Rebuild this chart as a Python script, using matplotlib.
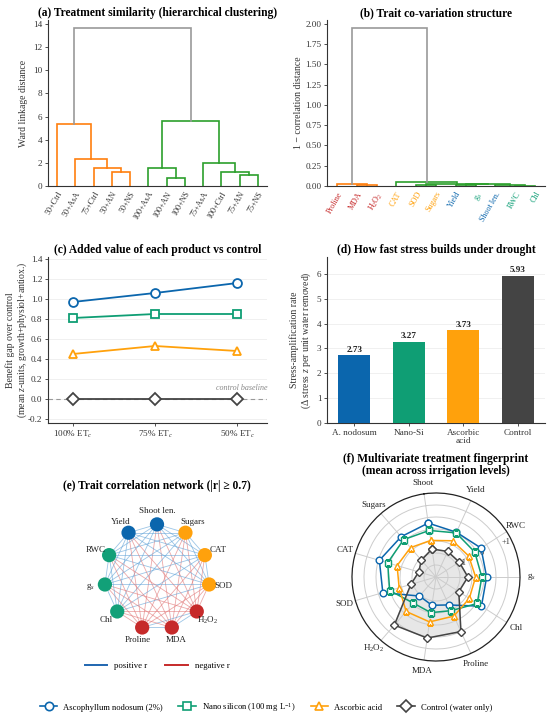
import numpy as np
import matplotlib
matplotlib.use("Agg")
import matplotlib.pyplot as plt
from matplotlib.lines import Line2D

plt.rcParams['font.family'] = ['Liberation Serif', 'DejaVu Serif']
plt.rcParams['mathtext.fontset'] = 'custom'
plt.rcParams['mathtext.rm'] = 'Liberation Serif'
plt.rcParams['mathtext.it'] = 'Liberation Serif:italic'

# ---------------- data ----------------
treat_leaves = ["50+Ctrl", "50+AsA", "75+Ctrl", "50+AN", "50+NS", "100+AsA", "100+AN",
                "100+NS", "75+AsA", "100+Ctrl", "75+AN", "75+NS"]
treat_merges = [(3, 4, 1.18), (2, 12, 1.58), (1, 13, 2.37), (0, 14, 5.34),
                (6, 7, 0.67), (5, 16, 1.52), (10, 11, 0.95), (9, 18, 1.23),
                (8, 19, 1.98), (17, 20, 5.63), (15, 21, 13.65)]

trait_leaves = ["Proline", "MDA", "H$_2$O$_2$", "CAT", "SOD", "Sugars", "Yield", "g$_s$",
                "Shoot len.", "RWC", "Chl"]
trait_leaf_group = ["stress", "stress", "stress", "antiox", "antiox", "antiox",
                    "growth", "physio", "growth", "physio", "physio"]
trait_merges = [(1, 2, 0.012), (0, 11, 0.030), (4, 5, 0.008), (9, 10, 0.005),
                (8, 14, 0.012), (6, 7, 0.015), (16, 15, 0.020), (13, 17, 0.027),
                (3, 18, 0.055), (12, 19, 1.95)]

levels = ["100% ET$_c$", "75% ET$_c$", "50% ET$_c$"]
treatments = ["Ascophyllum nodosum (2%)", "Nano silicon (100 mg L$^{-1}$)",
              "Ascorbic acid", "Control (water only)"]
gap_an = [0.97, 1.06, 1.16]
gap_ns = [0.81, 0.85, 0.85]
gap_asa = [0.45, 0.53, 0.48]
gap_ctrl = [0.0, 0.0, 0.0]

bar_labels = ["A. nodosum", "Nano-Si", "Ascorbic\nacid", "Control"]
amp_rate = [2.73, 3.27, 3.73, 5.93]

net_traits = ["Shoot len.", "Sugars", "CAT", "SOD", "H$_2$O$_2$", "MDA", "Proline",
              "Chl", "g$_s$", "RWC", "Yield"]
net_group = ["growth", "antiox", "antiox", "antiox", "stress", "stress", "stress",
             "physio", "physio", "physio", "growth"]
net_polarity = [1, 1, 1, 1, -1, -1, -1, 1, 1, 1, 1]

radar_traits = ["Shoot", "Yield", "RWC", "g$_s$", "Chl", "Proline", "MDA",
                "H$_2$O$_2$", "SOD", "CAT", "Sugars"]
radar_an = [0.27, 0.05, 0.23, 0.11, 0.25, -0.72, -0.81, -0.95, 0.31, 0.46, 0.22]
radar_ns = [-0.04, 0.02, -0.08, -0.09, 0.04, -0.46, -0.50, -0.56, 0.01, 0.10, 0.06]
radar_asa = [-0.46, -0.34, -0.38, -0.35, -0.35, -0.21, -0.11, -0.10, -0.40, -0.31, -0.38]
radar_ctrl = [-0.82, -0.83, -0.85, -0.67, -0.87, 0.50, 0.57, 0.65, -0.91, -1.25, -1.07]

# ---------------- styles ----------------
C_AN, C_NS, C_ASA, C_CT = "#0b66ad", "#0f9e74", "#ffa10c", "#444444"
group_col = {"growth": "#0b66ad", "antiox": "#ffa10c", "physio": "#12a078", "stress": "#c62a2a"}
DK = "#333333"
TFS = 8.3
TICK = 6.6
YLAB = 7.0

W, H = 550, 719
fig = plt.figure(figsize=(W / 100, H / 100), dpi=100)


def rect(l, t, r, b):
    return [l / W, 1 - b / H, (r - l) / W, (b - t) / H]


def style(ax):
    for s in ['top', 'right']:
        ax.spines[s].set_visible(False)
    for s in ['left', 'bottom']:
        ax.spines[s].set_color(DK)
        ax.spines[s].set_linewidth(0.8)
    ax.tick_params(colors=DK, labelsize=TICK, width=0.6, length=2.5, pad=1.5)


def dendro(ax, leaves, merges, cols):
    n = len(leaves)
    pos = {i: 5 + 10 * i for i in range(n)}
    hgt = {i: 0.0 for i in range(n)}
    for k, (a, b, h) in enumerate(merges):
        pos[n + k] = (pos[a] + pos[b]) / 2
        hgt[n + k] = h
    colour = {}
    root = n + len(merges) - 1

    def paint(node, c):
        if node < n:
            return
        colour[node] = c
        a, b, _ = merges[node - n]
        paint(a, c)
        paint(b, c)
    colour[root] = "#999999"
    ra, rb, _ = merges[root - n]
    paint(ra, cols[0])
    paint(rb, cols[1])
    for k, (a, b, h) in enumerate(merges):
        node = n + k
        ax.plot([pos[a], pos[a], pos[b], pos[b]], [hgt[a], h, h, hgt[b]],
                color=colour[node], lw=1.2, solid_joinstyle='miter')
    ax.set_xlim(0, 10 * n)
    ax.set_ylim(0, max(m[2] for m in merges) * 1.05)
    ax.set_xticks([5 + 10 * i for i in range(n)])
    ax.set_xticklabels(leaves, rotation=60, ha='right', rotation_mode='anchor', fontsize=5.9)
    ax.tick_params(axis='x', length=0, pad=3)


# (a)
axa = fig.add_axes(rect(48, 20, 267, 186))
style(axa)
dendro(axa, treat_leaves, treat_merges, ["#ff7f0e", "#2ca02c"])
axa.set_yticks(range(0, 15, 2))
axa.set_ylabel("Ward linkage distance", fontsize=YLAB, color=DK)
axa.yaxis.set_label_coords(-0.09, 0.5)
axa.set_title("(a) Treatment similarity (hierarchical clustering)", fontsize=TFS,
              fontweight='bold', pad=3)

# (b)
axb = fig.add_axes(rect(327, 20, 545, 186))
style(axb)
dendro(axb, trait_leaves, trait_merges, ["#ff7f0e", "#2ca02c"])
axb.set_yticks(np.arange(0, 2.01, 0.25))
axb.yaxis.set_major_formatter(matplotlib.ticker.FormatStrFormatter('%.2f'))
for lab, g in zip(axb.get_xticklabels(), trait_leaf_group):
    lab.set_color(group_col[g])
axb.set_ylabel("1 \u2212 correlation distance", fontsize=YLAB, color=DK)
axb.yaxis.set_label_coords(-0.11, 0.5)
axb.set_title("(b) Trait co-variation structure", fontsize=TFS, fontweight='bold', pad=3)

# (c)
axc = fig.add_axes(rect(48, 257, 267, 423))
style(axc)
x = np.arange(len(levels))
axc.axhline(0, color="#999999", lw=0.8, ls=(0, (4, 3)), zorder=1)
for vals, c, m in [(gap_an, C_AN, 'o'), (gap_ns, C_NS, 's'), (gap_asa, C_ASA, '^'),
                   (gap_ctrl, C_CT, 'D')]:
    axc.plot(x, vals, color=c, lw=1.3, marker=m, ms=6.4 if m != 'D' else 6.0,
             mfc='white', mec=c, mew=1.3, zorder=3)
axc.set_xlim(-0.3, 2.36)
axc.set_ylim(-0.24, 1.42)
axc.set_yticks(np.arange(-0.2, 1.41, 0.2))
axc.yaxis.set_major_formatter(matplotlib.ticker.FuncFormatter(
    lambda v, p: "%.1f" % (0.0 if abs(v) < 1e-9 else v)))
axc.set_xticks(x)
axc.set_xticklabels(levels, fontsize=TICK)
axc.grid(axis='y', color="#eeeeee", lw=0.6)
axc.set_axisbelow(True)
axc.text(2.36, 0.065, "control baseline", fontsize=5.8, style='italic', color="#888888",
         ha='right', va='bottom')
axc.set_ylabel("Benefit gap over control\n(mean $z$-units, growth+physiol+antiox.)",
               fontsize=YLAB, color=DK, linespacing=1.1)
axc.yaxis.set_label_coords(-0.085, 0.5)
axc.set_title("(c) Added value of each product vs control", fontsize=TFS,
              fontweight='bold', pad=3)

# (d)
axd = fig.add_axes(rect(327, 257, 545, 423))
style(axd)
xb = np.arange(len(bar_labels))
axd.bar(xb, amp_rate, width=0.59, color=[C_AN, C_NS, C_ASA, C_CT], zorder=3)
for xi, v in zip(xb, amp_rate):
    axd.text(xi, v + 0.05, "%.2f" % v, ha='center', va='bottom', fontsize=6.6,
             fontweight='bold', color="#222222")
axd.set_xlim(-0.5, 3.5)
axd.set_ylim(0, 6.68)
axd.set_yticks(range(0, 7))
axd.set_xticks(xb)
axd.set_xticklabels(bar_labels, fontsize=TICK, linespacing=1.0)
axd.grid(axis='y', color="#eeeeee", lw=0.6)
axd.set_axisbelow(True)
axd.set_ylabel("Stress-amplification rate\n(\u0394 stress $z$ per unit water removed)",
               fontsize=YLAB, color=DK, linespacing=1.1)
axd.yaxis.set_label_coords(-0.064, 0.5)
axd.set_title("(d) How fast stress builds under drought", fontsize=TFS,
              fontweight='bold', pad=3)

# (e) network
axe = fig.add_axes(rect(57, 477, 257, 677))
axe.set_xlim(-1.9, 1.9)
axe.set_ylim(-1.9, 1.9)
axe.axis('off')
nn = len(net_traits)
ang = np.pi / 2 - 2 * np.pi * np.arange(nn) / nn
nx, ny = np.cos(ang), np.sin(ang)
for i in range(nn):
    for j in range(i + 1, nn):
        sgn = net_polarity[i] * net_polarity[j]
        axe.plot([nx[i], nx[j]], [ny[i], ny[j]],
                 color="#5a9fd6" if sgn > 0 else "#e07070", lw=0.6, alpha=0.6, zorder=1)
axe.scatter(nx, ny, s=105, c=[group_col[g] for g in net_group], zorder=3, linewidths=0)
for i, t in enumerate(net_traits):
    axe.text(1.27 * nx[i], 1.25 * ny[i], t, ha='center', va='center', fontsize=6.5,
             color="#222222", zorder=4)
fig.text(157 / W, 1 - 486 / H, "(e) Trait correlation network (|r| \u2265 0.7)",
         ha='center', va='center', fontsize=TFS, fontweight='bold')
fig.legend(handles=[Line2D([], [], color="#1f66b0", lw=1.4),
                    Line2D([], [], color="#c62a2a", lw=1.4)],
           labels=["positive r", "negative r"], loc='center',
           bbox_to_anchor=(157 / W, 1 - 666 / H), ncol=2, frameon=False, fontsize=6.3,
           handlelength=2.6, columnspacing=2.0, handletextpad=0.8)

# (f) radar
axf = fig.add_axes(rect(352, 493, 520, 661), projection='polar')
nr = len(radar_traits)
th = 2 * np.pi * np.arange(nr) / nr
thc = np.concatenate([th, th[:1]])
axf.set_theta_offset(np.deg2rad(90 + 360 / 44))
axf.set_theta_direction(-1)
axf.set_ylim(-2, 1.5)
axf.set_yticks([-1.5, -1, -0.5, 0, 0.5, 1])
axf.set_yticklabels(["", "\u22121", "", "0", "", "+1"], fontsize=6.0, color="#333333")
axf.set_rlabel_position(73)
axf.set_xticks(th)
axf.set_xticklabels(radar_traits, fontsize=6.5, color="#222222")
axf.tick_params(axis='x', pad=-2.5)
axf.grid(color="#cccccc", lw=0.7)
axf.spines['polar'].set_color("#222222")
axf.spines['polar'].set_linewidth(0.9)


def closed(v):
    v = np.asarray(v)
    return np.concatenate([v, v[:1]])


axf.fill(thc, closed(radar_ctrl), color="#bdbdbd", alpha=0.35, zorder=1)
for vals, c, m in [(radar_an, C_AN, 'o'), (radar_ns, C_NS, 's'), (radar_asa, C_ASA, '^'),
                   (radar_ctrl, C_CT, 'D')]:
    axf.plot(thc, closed(vals), color=c, lw=1.1, marker=m,
             ms=4.8 if m != 'D' else 4.4, mfc='white', mec=c, mew=1.0, zorder=3)
fig.text(436 / W, 1 - 465 / H, "(f) Multivariate treatment fingerprint\n(mean across irrigation levels)",
         ha='center', va='center', fontsize=TFS, fontweight='bold', linespacing=1.05)

# bottom legend
handles = [Line2D([], [], color=c, lw=1.2, marker=m, ms=6, mfc='white', mec=c, mew=1.2)
           for c, m in [(C_AN, 'o'), (C_NS, 's'), (C_ASA, '^'), (C_CT, 'D')]]
fig.legend(handles=handles, labels=treatments, loc='center',
           bbox_to_anchor=(266 / W, 1 - 707 / H), ncol=4, frameon=False, fontsize=6.2,
           handlelength=2.0, columnspacing=1.8, handletextpad=0.7)

fig.savefig("out.png", dpi=100)
